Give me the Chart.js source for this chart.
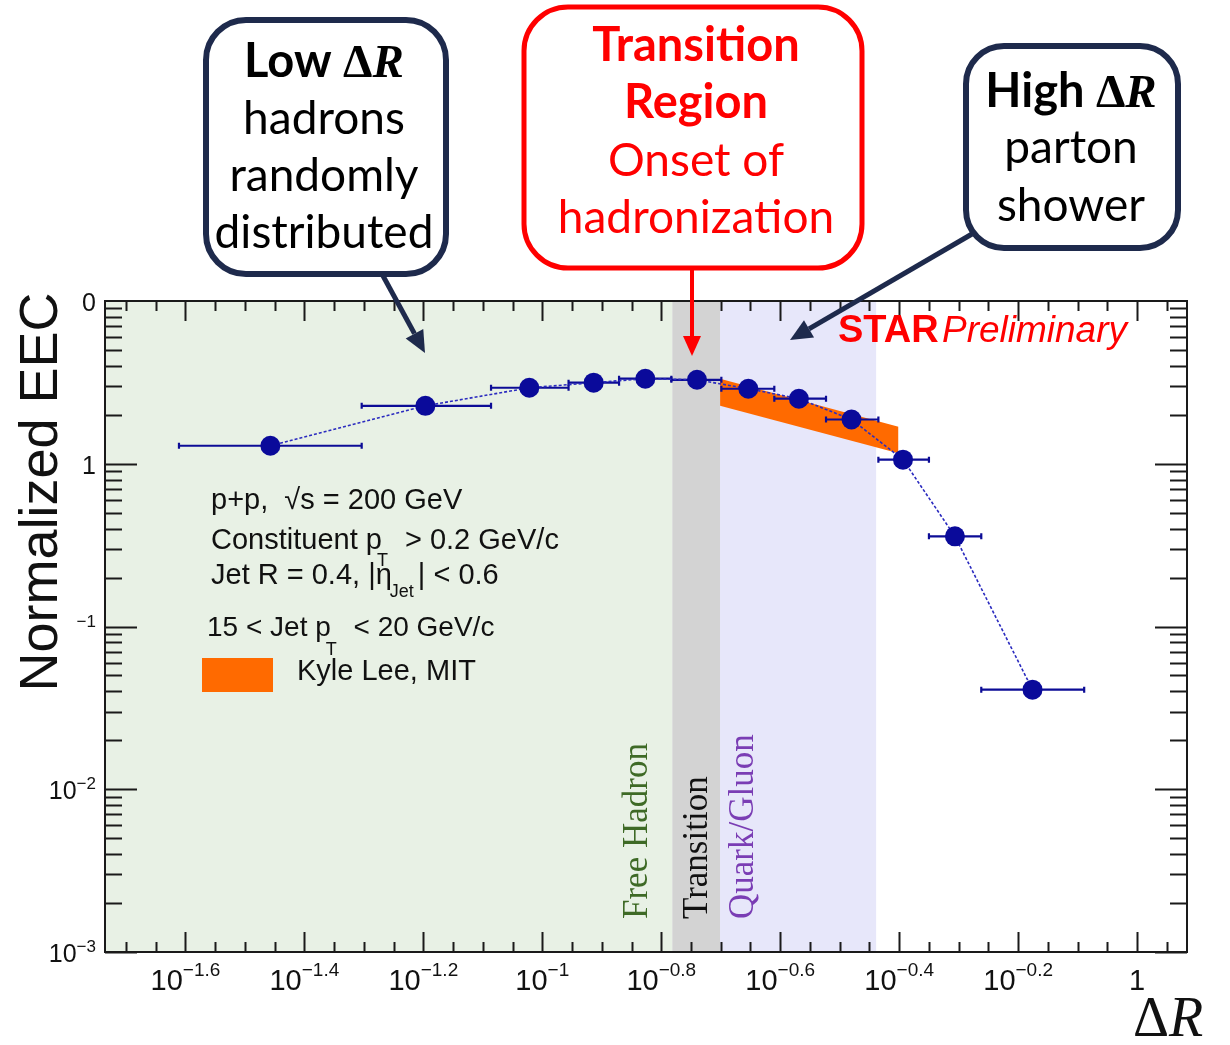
<!DOCTYPE html>
<html>
<head>
<meta charset="utf-8">
<script src="https://cdn.jsdelivr.net/npm/chart.js@4.4.1/dist/chart.umd.min.js"></script>
<style>
  html, body { margin: 0; padding: 0; background: #fff; }
  #wrap { width: 1230px; height: 1045px; }
</style>
</head>
<body>
<div id="wrap"><canvas id="eecChart" width="1230" height="1045"></canvas></div>
<script>
// EEC points: bin centre, bin edges, value
const deltaR   = [0.0349, 0.0636, 0.0951, 0.122, 0.149, 0.182, 0.222, 0.270, 0.331, 0.404, 0.494, 0.667];
const deltaRLo = [0.0245, 0.0497, 0.0820, 0.1107, 0.1346, 0.1648, 0.2000, 0.2455, 0.2999, 0.3673, 0.4467, 0.5470];
const deltaRHi = [0.0497, 0.0820, 0.1107, 0.1346, 0.1648, 0.2000, 0.2455, 0.2999, 0.3673, 0.4467, 0.5470, 0.8147];
const eec      = [1.29, 2.27, 2.93, 3.15, 3.33, 3.28, 2.89, 2.51, 1.87, 1.06, 0.358, 0.0409];

// Kyle Lee (MIT) calculation band
const theoryX  = [0.199, 0.397];
const theoryHi = [3.33, 1.69];
const theoryLo = [2.27, 1.16];

// shaded regions (edges in ΔR)
const regionEdges  = [0.0184, 0.1654, 0.199, 0.3641];
const regionNames  = ['Free Hadron', 'Transition', 'Quark/Gluon'];
const regionFill   = ['#e8f1e5', '#d3d3d3', '#e7e7fa'];
const regionInk    = ['#3e6a26', '#111111', '#7a3db4'];

// axis ticks and labels
const xTickExp    = [-1.6, -1.4, -1.2, -1, -0.8, -0.6, -0.4, -0.2, 0];
const xTickLabels = [['10','−1.6'], ['10','−1.4'], ['10','−1.2'], ['10','−1'], ['10','−0.8'],
                     ['10','−0.6'], ['10','−0.4'], ['10','−0.2'], ['1','']];
const yTickExp    = [-3, -2, -1, 0, 1];
const yTickLabels = [['10','−3'], ['10','−2'], ['','−1'], ['1',''], ['0','']];

const SANS = 'Liberation Sans';
const SERIF = 'Liberation Serif';
const NAVY = '#1e2a4c';
const RED = '#ff0000';

function runs(ctx, list, x, y, align) {
  let w = 0;
  list.forEach(r => { ctx.font = r.font; r.w = ctx.measureText(r.t).width + (r.dx || 0); w += r.w; });
  let cx = align === 'center' ? x - w / 2 : align === 'right' ? x - w : x;
  ctx.textAlign = 'left';
  list.forEach(r => { ctx.font = r.font; ctx.fillText(r.t, cx + (r.sx || 0), y + (r.dy || 0)); cx += r.w; });
}

function roundBox(ctx, x, y, w, h, r, color, lw) {
  ctx.beginPath();
  ctx.moveTo(x + r, y);
  ctx.arcTo(x + w, y, x + w, y + h, r);
  ctx.arcTo(x + w, y + h, x, y + h, r);
  ctx.arcTo(x, y + h, x, y, r);
  ctx.arcTo(x, y, x + w, y, r);
  ctx.closePath();
  ctx.fillStyle = '#fff';
  ctx.fill();
  ctx.lineWidth = lw;
  ctx.strokeStyle = color;
  ctx.stroke();
}

function arrow(ctx, x0, y0, x1, y1, color, lw, hl, hw) {
  const a = Math.atan2(y1 - y0, x1 - x0);
  const bx = x1 - hl * Math.cos(a), by = y1 - hl * Math.sin(a);
  ctx.strokeStyle = color; ctx.fillStyle = color; ctx.lineWidth = lw;
  ctx.beginPath(); ctx.moveTo(x0, y0); ctx.lineTo(bx, by); ctx.stroke();
  ctx.beginPath();
  ctx.moveTo(x1, y1);
  ctx.lineTo(bx + hw * Math.sin(a), by - hw * Math.cos(a));
  ctx.lineTo(bx - hw * Math.sin(a), by + hw * Math.cos(a));
  ctx.closePath(); ctx.fill();
}

// shaded regions, their vertical names and the info text
const backdrop = {
  id: 'backdrop',
  beforeDatasetsDraw(chart) {
    const { ctx, chartArea: a, scales: { x } } = chart;
    ctx.save();
    for (let i = 0; i < regionNames.length; i++) {
      const x0 = x.getPixelForValue(regionEdges[i]);
      const x1 = x.getPixelForValue(regionEdges[i + 1]);
      ctx.fillStyle = regionFill[i];
      ctx.fillRect(x0, a.top, x1 - x0, a.bottom - a.top);
    }
    // names, read bottom to top
    const base = [x.getPixelForValue(regionEdges[1]) - 25, x.getPixelForValue(regionEdges[2]) - 13,
                  x.getPixelForValue(regionEdges[2]) + 33];
    ctx.font = '35px ' + SERIF;
    ctx.textAlign = 'left';
    ctx.textBaseline = 'alphabetic';
    regionNames.forEach((n, i) => {
      ctx.save();
      ctx.translate(base[i], a.bottom - 33);
      ctx.rotate(-Math.PI / 2);
      ctx.fillStyle = regionInk[i];
      ctx.fillText(n, 0, 0);
      ctx.restore();
    });

    // info block
    const f = '29px ' + SANS, f2 = '28px ' + SANS, s = '18px ' + SANS;
    ctx.fillStyle = '#111';
    runs(ctx, [{ t: 'p+p,  √s = 200 GeV', font: f }], 211, 509, 'left');
    runs(ctx, [{ t: 'Constituent p', font: f }, { t: 'T', font: s, dy: 17, sx: -5, dx: 4 },
               { t: ' > 0.2 GeV/c', font: f }], 211, 549, 'left');
    runs(ctx, [{ t: 'Jet R = 0.4, |η', font: f }, { t: 'Jet', font: s, dy: 13, sx: -2, dx: 2 },
               { t: '| < 0.6', font: f }], 211, 584, 'left');
    runs(ctx, [{ t: '15 < Jet p', font: f2 }, { t: 'T', font: s, dy: 19, sx: -5, dx: 4 },
               { t: ' < 20 GeV/c', font: f2 }], 207, 636, 'left');
    ctx.fillStyle = '#ff6a00';
    ctx.fillRect(202, 658, 71, 34);
    ctx.fillStyle = '#111';
    runs(ctx, [{ t: 'Kyle Lee, MIT', font: '29px ' + SANS }], 297, 680, 'left');
    ctx.restore();
  }
};

// horizontal bin-width bars, drawn just before the points
const binBars = {
  id: 'binBars',
  beforeDatasetDraw(chart, args) {
    if (args.index !== 0) return;
    const { ctx, scales: { x, y } } = chart;
    ctx.save();
    ctx.strokeStyle = '#0c0c96';
    ctx.lineWidth = 2.2;
    for (let i = 0; i < eec.length; i++) {
      const yp = y.getPixelForValue(eec[i]);
      const x0 = x.getPixelForValue(deltaRLo[i]);
      const x1 = x.getPixelForValue(deltaRHi[i]);
      ctx.beginPath();
      ctx.moveTo(x0, yp); ctx.lineTo(x1, yp);
      ctx.moveTo(x0, yp - 3); ctx.lineTo(x0, yp + 3);
      ctx.moveTo(x1, yp - 3); ctx.lineTo(x1, yp + 3);
      ctx.stroke();
    }
    ctx.restore();
  }
};

// ROOT style frame with inner ticks on all four sides
const frame = {
  id: 'frame',
  afterDatasetsDraw(chart) {
    const { ctx, chartArea: a, scales: { x, y } } = chart;
    ctx.save();
    ctx.strokeStyle = '#1a1a1a';
    ctx.lineWidth = 2;
    ctx.strokeRect(a.left, a.top, a.right - a.left, a.bottom - a.top);
    ctx.beginPath();
    for (let k = -34; k <= 1; k++) {
      const xp = Math.round(x.getPixelForValue(Math.pow(10, k * 0.05))) + 0.5;
      const len = k % 4 === 0 ? 20 : 10;
      ctx.moveTo(xp, a.bottom); ctx.lineTo(xp, a.bottom - len);
      ctx.moveTo(xp, a.top); ctx.lineTo(xp, a.top + len);
    }
    for (let n = -3; n <= 0; n++) {
      for (let k = 1; k <= 9; k++) {
        const yp = Math.round(y.getPixelForValue(k * Math.pow(10, n))) + 0.5;
        const len = k === 1 ? 32 : 17;
        ctx.moveTo(a.left, yp); ctx.lineTo(a.left + len, yp);
        ctx.moveTo(a.right, yp); ctx.lineTo(a.right - len, yp);
      }
    }
    ctx.stroke();
    ctx.restore();

    ctx.save();
    ctx.fillStyle = '#111';
    ctx.textBaseline = 'alphabetic';
    xTickExp.forEach((e, i) => {
      const xp = x.getPixelForValue(Math.pow(10, e));
      const lab = xTickLabels[i];
      const list = [{ t: lab[0], font: '29px ' + SANS }];
      if (lab[1]) list.push({ t: lab[1], font: '19px ' + SANS, dy: -14 });
      runs(ctx, list, xp, a.bottom + 38, 'center');
    });
    yTickExp.forEach((e, i) => {
      const yp = y.getPixelForValue(Math.pow(10, e));
      const lab = yTickLabels[i];
      const list = [];
      if (lab[0]) list.push({ t: lab[0], font: '25px ' + SANS, dy: 10 });
      if (lab[1]) list.push({ t: lab[1], font: '17px ' + SANS, dy: 0 });
      runs(ctx, list, 96, yp, 'right');
    });

    // STAR label
    ctx.fillStyle = RED;
    runs(ctx, [{ t: 'STAR', font: 'bold 38px ' + SANS }, { t: ' ', font: '12px ' + SANS },
               { t: 'Preliminary', font: 'italic 37px ' + SANS }], 838, 342, 'left');
    ctx.restore();
  }
};

// callouts, arrows and axis titles
const callouts = {
  id: 'callouts',
  afterDraw(chart) {
    const { ctx } = chart;
    ctx.save();
    ctx.fillStyle = '#111';
    ctx.textBaseline = 'alphabetic';
    ctx.font = '54px ' + SANS;
    ctx.save();
    ctx.translate(57, 492);
    ctx.rotate(-Math.PI / 2);
    ctx.textAlign = 'center';
    ctx.fillText('Normalized EEC', 0, 0);
    ctx.restore();
    runs(ctx, [{ t: 'Δ', font: '56px ' + SERIF }, { t: 'R', font: 'italic 56px ' + SERIF }], 1133, 1036, 'left');

    const big = '46px Lato', bold = 'bold 47px Lato';
    const dR = (fs) => [{ t: 'Δ', font: 'bold ' + fs + 'px ' + SERIF }, { t: 'R', font: 'bold italic ' + fs + 'px ' + SERIF }];

    arrow(ctx, 382, 274, 425, 353, NAVY, 5, 22, 10);
    arrow(ctx, 972, 234, 790, 340, NAVY, 5, 22, 10);
    arrow(ctx, 692, 266, 692, 356, RED, 4, 20, 9);

    roundBox(ctx, 206, 20, 240, 254, 40, NAVY, 6);
    roundBox(ctx, 524, 7, 338, 261, 44, RED, 5);
    roundBox(ctx, 966, 46, 212, 202, 38, NAVY, 6);

    ctx.fillStyle = '#000';
    runs(ctx, [{ t: 'Low ', font: bold }].concat(dR(47)), 324, 77, 'center');
    runs(ctx, [{ t: 'hadrons', font: big }], 324, 134, 'center');
    runs(ctx, [{ t: 'randomly', font: big }], 324, 191, 'center');
    runs(ctx, [{ t: 'distributed', font: big }], 324, 248, 'center');

    runs(ctx, [{ t: 'High ', font: bold }].concat(dR(47)), 1071, 107, 'center');
    runs(ctx, [{ t: 'parton', font: big }], 1071, 163, 'center');
    runs(ctx, [{ t: 'shower', font: big }], 1071, 221, 'center');

    ctx.fillStyle = RED;
    runs(ctx, [{ t: 'Transition', font: bold }], 696, 61, 'center');
    runs(ctx, [{ t: 'Region', font: bold }], 696, 118, 'center');
    runs(ctx, [{ t: 'Onset of', font: big }], 696, 176, 'center');
    runs(ctx, [{ t: 'hadronization', font: big }], 696, 233, 'center');
    ctx.restore();
  }
};

const ctx = document.getElementById('eecChart').getContext('2d');
new Chart(ctx, {
  type: 'line',
  data: {
    datasets: [{
      label: 'STAR',
      data: deltaR.map((v, i) => ({ x: v, y: eec[i] })),
      borderColor: '#2b2bbf',
      borderWidth: 1.6,
      borderDash: [3, 2],
      pointRadius: 10,
      pointBackgroundColor: '#0a0a9a',
      pointBorderColor: '#0a0a9a',
      pointBorderWidth: 0,
      fill: false
    }, {
      label: 'Kyle Lee, MIT',
      data: theoryX.map((v, i) => ({ x: v, y: theoryHi[i] })),
      borderWidth: 0,
      pointRadius: 0,
      backgroundColor: '#ff6a00',
      fill: '+1'
    }, {
      label: 'lo',
      data: theoryX.map((v, i) => ({ x: v, y: theoryLo[i] })),
      borderWidth: 0,
      pointRadius: 0,
      fill: false
    }]
  },
  options: {
    responsive: false,
    devicePixelRatio: 1,
    animation: false,
    layout: { padding: { left: 105, right: 43, top: 301, bottom: 93 } },
    plugins: { legend: { display: false }, tooltip: { enabled: false } },
    scales: {
      x: { type: 'logarithmic', min: 0.0184, max: 1.213, bounds: 'data', display: false },
      y: { type: 'logarithmic', min: 0.001, max: 10, bounds: 'data', display: false }
    }
  },
  plugins: [backdrop, binBars, frame, callouts]
});
</script>
</body>
</html>
